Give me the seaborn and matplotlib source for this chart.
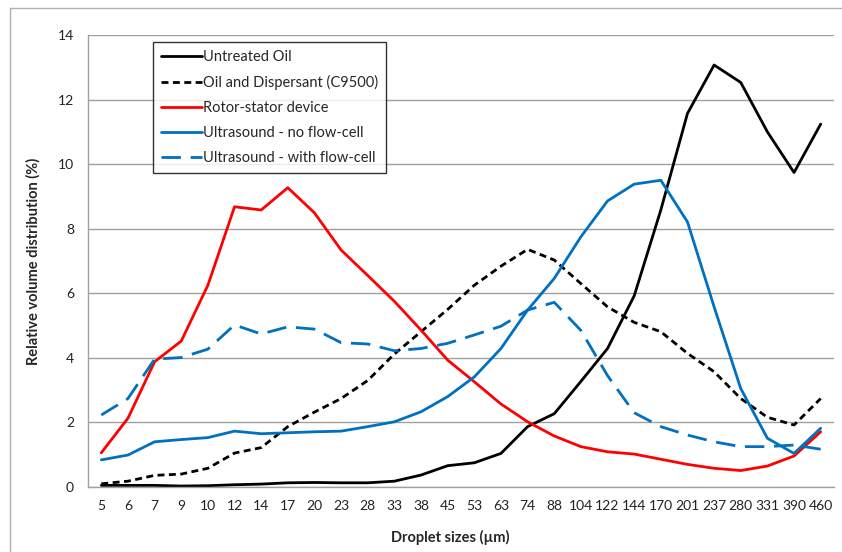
import matplotlib
matplotlib.use("Agg")
import matplotlib.pyplot as plt
from matplotlib.lines import Line2D
import seaborn as sns
import pandas as pd

sizes = ["5", "6", "7", "9", "10", "12", "14", "17", "20", "23", "28", "33", "38", "45",
         "53", "63", "74", "88", "104", "122", "144", "170", "201", "237", "280", "331", "390", "460"]

untreated = [0.05, 0.05, 0.05, 0.03, 0.04, 0.07, 0.09, 0.13, 0.14, 0.13, 0.13, 0.18, 0.37, 0.66,
             0.75, 1.04, 1.87, 2.27, 3.27, 4.29, 5.92, 8.58, 11.57, 13.07, 12.53, 11.0, 9.74, 11.24]
dispersant = [0.1, 0.18, 0.36, 0.4, 0.58, 1.05, 1.22, 1.87, 2.32, 2.74, 3.3, 4.12, 4.81, 5.5,
              6.25, 6.84, 7.36, 7.03, 6.3, 5.58, 5.1, 4.81, 4.14, 3.57, 2.74, 2.16, 1.92, 2.74]
rotor = [1.06, 2.13, 3.88, 4.52, 6.25, 8.68, 8.58, 9.27, 8.49, 7.34, 6.55, 5.75, 4.86, 3.93,
         3.26, 2.57, 2.02, 1.58, 1.25, 1.09, 1.02, 0.86, 0.70, 0.58, 0.51, 0.65, 0.96, 1.71]
us_noflow = [0.84, 0.99, 1.4, 1.47, 1.53, 1.73, 1.65, 1.68, 1.71, 1.73, 1.87, 2.02, 2.33, 2.8,
             3.41, 4.29, 5.48, 6.46, 7.75, 8.86, 9.38, 9.5, 8.21, 5.58, 3.05, 1.51, 1.04, 1.82]
us_flow = [2.23, 2.74, 3.96, 4.01, 4.27, 5.02, 4.74, 4.96, 4.89, 4.47, 4.43, 4.22, 4.29, 4.45,
           4.71, 4.98, 5.48, 5.72, 4.85, 3.45, 2.3, 1.87, 1.61, 1.4, 1.25, 1.25, 1.3, 1.17]

series_names = ["Untreated Oil", "Oil and Dispersant (C9500)", "Rotor-stator device",
                "Ultrasound - no flow-cell", "Ultrasound - with flow-cell"]
series_values = [untreated, dispersant, rotor, us_noflow, us_flow]

rows = []
for name, vals in zip(series_names, series_values):
    for s, v in zip(sizes, vals):
        rows.append({"size": s, "value": v, "series": name})
df = pd.DataFrame(rows)

sns.set_theme(style="white")
plt.rcParams["font.family"] = ["Lato", "DejaVu Sans"]

fig = plt.figure(figsize=(8.42, 5.52), dpi=100)
ax = fig.add_axes([88 / 842, 1 - 487 / 552, 746 / 842, 452 / 552])

palette = {
    "Untreated Oil": "#000000",
    "Oil and Dispersant (C9500)": "#000000",
    "Rotor-stator device": "#FF0000",
    "Ultrasound - no flow-cell": "#0070C0",
    "Ultrasound - with flow-cell": "#0070C0",
}
dashes = {
    "Untreated Oil": "",
    "Oil and Dispersant (C9500)": (2.5, 1.6),
    "Rotor-stator device": "",
    "Ultrasound - no flow-cell": "",
    "Ultrasound - with flow-cell": (7, 3.5),
}

sns.lineplot(data=df, x="size", y="value", hue="series", style="series",
             hue_order=series_names, style_order=series_names,
             palette=palette, dashes=dashes, sort=False, linewidth=2,
             ax=ax, legend=True)

ax.set_xlim(-0.5, len(sizes) - 0.5)
ax.set_ylim(0, 14)
ax.set_yticks(range(0, 15, 2))
ax.grid(axis="y", color="#A0A0A0", linewidth=1)
ax.grid(axis="x", visible=False)
ax.set_axisbelow(True)
for side in ["top", "right"]:
    ax.spines[side].set_visible(False)
for side in ["left", "bottom"]:
    ax.spines[side].set_color("#A0A0A0")
    ax.spines[side].set_linewidth(1)
ax.tick_params(axis="both", length=0, labelsize=10, colors="#222222")
ax.tick_params(axis="x", pad=9)
ax.tick_params(axis="y", pad=10)

ax.set_xlabel("Droplet sizes (µm)", fontsize=10.5, fontweight="bold")
ax.set_ylabel("Relative volume distribution (%)", fontsize=10.5, fontweight="bold")
ax.xaxis.set_label_coords((450 - 88) / 746, (487 - 537) / 452)
ax.xaxis.label.set_va("center")
ax.yaxis.set_label_coords((33 - 88) / 746, 0.5)
ax.yaxis.label.set_va("center")

handles, labels = ax.get_legend_handles_labels()
leg = ax.legend(handles, labels, loc="upper left", bbox_to_anchor=(0.087, 0.985),
                frameon=True, fancybox=False, edgecolor="black", fontsize=10.5,
                handlelength=2.8, handletextpad=0.1, labelspacing=0.75,
                borderpad=0.55, borderaxespad=0)
leg.get_frame().set_linewidth(1)

fig.add_artist(Line2D([10 / 842, 10 / 842], [0, 1 - 8 / 552], transform=fig.transFigure,
                      color="#B0B0B0", linewidth=1))
fig.add_artist(Line2D([10 / 842, 1], [1 - 8 / 552, 1 - 8 / 552], transform=fig.transFigure,
                      color="#B0B0B0", linewidth=1))

fig.savefig("out.png", dpi=100)
